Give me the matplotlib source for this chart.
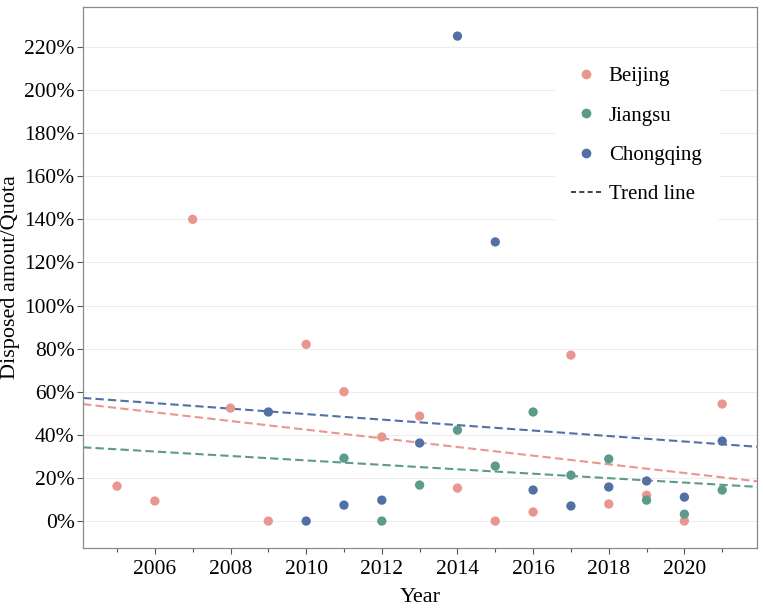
import numpy as np
import matplotlib
matplotlib.use("Agg")
import matplotlib.pyplot as plt
from matplotlib.lines import Line2D
from matplotlib.ticker import FuncFormatter, MultipleLocator

plt.rcParams['font.family'] = ['Liberation Serif', 'DejaVu Serif']

beijing_years = [2005, 2006, 2007, 2008, 2009, 2010, 2011, 2012, 2013, 2014, 2015, 2016, 2017, 2018, 2019, 2020, 2021]
beijing_vals = [16.2, 9.3, 140, 52.4, 0, 82, 60, 39, 48.7, 15.3, 0, 4.2, 77, 7.9, 12, 0, 54.3]

jiangsu_years = [2011, 2012, 2013, 2014, 2015, 2016, 2017, 2018, 2019, 2020, 2021]
jiangsu_vals = [29.2, 0, 16.7, 42.2, 25.5, 50.6, 21.3, 28.8, 9.7, 3.2, 14.4]

chongqing_years = [2009, 2010, 2011, 2012, 2013, 2014, 2015, 2016, 2017, 2018, 2019, 2020, 2021]
chongqing_vals = [50.6, 0, 7.4, 9.7, 36.2, 225, 129.5, 14.4, 7, 15.8, 18.6, 11.1, 37.1]

series = [
    ("Beijing", beijing_years, beijing_vals, "#E8968F"),
    ("Jiangsu", jiangsu_years, jiangsu_vals, "#5C9A8B"),
    ("Chongqing", chongqing_years, chongqing_vals, "#5270A5"),
]

fig = plt.figure(figsize=(7.63, 6.09), dpi=100)
ax = fig.add_axes([83/763, 1 - 548/609, (757-83)/763, (548-7)/609])

xlim = (2004.1, 2021.92)
ax.set_xlim(*xlim)
ax.set_ylim(-12.5, 238.5)

xx = np.array(xlim)
for name, yrs, vals, col in series:
    p = np.polyfit(yrs, vals, 1)
    ax.plot(xx, np.polyval(p, xx), ls=(0, (4, 2)), color=col, lw=1.5, zorder=2)
for name, yrs, vals, col in series:
    ax.scatter(yrs, vals, s=45, color=col, edgecolors='none', zorder=3)

ax.yaxis.set_major_formatter(FuncFormatter(lambda v, _: f"{v:.0f}%"))
ax.set_yticks(np.arange(0, 221, 20))
ax.xaxis.set_minor_locator(MultipleLocator(1))
ax.set_xticks(np.arange(2006, 2021, 2))

ax.grid(axis='y', color='#EDEDED', lw=0.8, zorder=0)
ax.set_axisbelow(True)
for s in ax.spines.values():
    s.set_color('#8A8A8A')
    s.set_linewidth(0.9)
ax.tick_params(axis='both', which='major', labelsize=15.5, color='#555555', length=4, width=0.8)
ax.tick_params(axis='x', which='minor', color='#555555', length=3, width=0.8)
ax.tick_params(axis='x', pad=5)
ax.tick_params(axis='y', pad=2)

ax.set_xlabel("Year", fontsize=16, labelpad=6)
ax.set_ylabel("Disposed amout/Quota", fontsize=16, labelpad=3)

handles = [Line2D([], [], marker='o', ls='none', color=c, markersize=7, markeredgewidth=0) for _, _, _, c in series]
handles.append(Line2D([], [], ls=(0, (3, 2)), color='#222222', lw=1.2))
labels = [s[0] for s in series] + ["Trend line"]
leg = ax.legend(handles, labels, loc='upper right', bbox_to_anchor=(0.958, 0.94), fontsize=15,
                frameon=True, facecolor='white', edgecolor='white', framealpha=1,
                labelspacing=0.95, handlelength=1.4, handletextpad=0.4, borderpad=0.8)

fig.savefig("out.png", dpi=100)
